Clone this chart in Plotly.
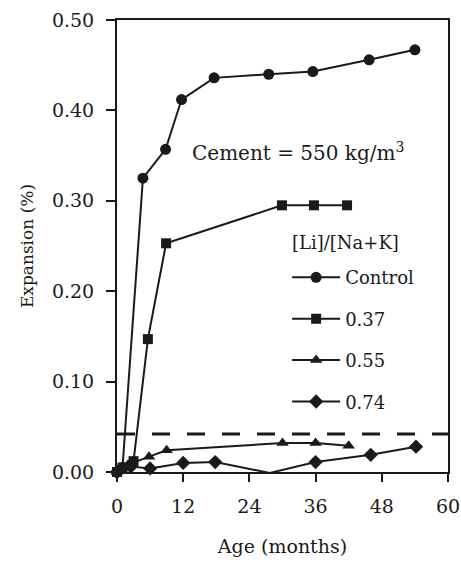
import plotly.graph_objects as go

# Data
control_x = [0, 1, 4.7, 8.8, 11.7, 17.6, 27.5, 35.5, 45.7, 54]
control_y = [0, 0.005, 0.325, 0.357, 0.412, 0.436, 0.440, 0.443, 0.456, 0.467]

li37_x = [0, 1, 3, 5.6, 8.9, 29.9, 35.7, 41.7]
li37_y = [0, 0.005, 0.012, 0.147, 0.253, 0.295, 0.295, 0.295]

li55_x = [0, 2, 5.8, 9, 30, 36, 42]
li55_y = [0, 0.008, 0.017, 0.024, 0.032, 0.032, 0.029]

li74_x = [0, 2.5, 6, 12, 17.8, 27.7, 36, 46, 54.2]
li74_y = [0, 0.006, 0.004, 0.010, 0.011, -0.001, 0.011, 0.019, 0.028]

limit_x = [0, 60]
limit_y = [0.042, 0.042]

names = ["Control", "0.37", "0.55", "0.74"]
symbols = ["circle", "square", "triangle-up", "diamond"]
sizes = [11, 10, 11, 11]
series = [(control_x, control_y), (li37_x, li37_y), (li55_x, li55_y), (li74_x, li74_y)]

FONT = "DejaVu Serif"
INK = "#1a1a1a"

fig = go.Figure()

fig.add_trace(go.Scatter(
    x=limit_x, y=limit_y, mode="lines", showlegend=False,
    line=dict(color=INK, width=3, dash="18px,17px"), hoverinfo="skip"))

for i, ((xs, ys), nm, sym, sz) in enumerate(zip(series, names, symbols, sizes)):
    fig.add_trace(go.Scatter(
        x=xs, y=ys, name=nm, mode="lines+markers", legendgroup=nm,
        line=dict(color=INK, width=2),
        marker=dict(symbol=sym, size=sz, color=INK),
        cliponaxis=False))

fig.add_annotation(
    x=32.8, y=0.354, xref="x", yref="y",
    text="Cement = 550 kg/m<sup>3</sup>", showarrow=False,
    font=dict(family=FONT, size=20, color=INK), xanchor="center", yanchor="middle")

# legend title placed as a text label
fig.add_annotation(
    x=0.523, y=0.507, xref="paper", yref="paper",
    text="[Li]/[Na+K]", showarrow=False,
    font=dict(family=FONT, size=18, color=INK), xanchor="left", yanchor="middle")

fig.update_layout(
    width=461, height=562,
    margin=dict(l=117, r=13, t=20, b=90),
    paper_bgcolor="white", plot_bgcolor="white",
    font=dict(family=FONT, size=19, color=INK),
    showlegend=True,
    legend=dict(
        x=0.514, y=0.471, xanchor="left", yanchor="top",
        bgcolor="rgba(0,0,0,0)",
        font=dict(family=FONT, size=18, color=INK),
        tracegroupgap=15, itemwidth=48),
    xaxis=dict(
        range=[0, 60], dtick=12, tick0=0, automargin=False,
        showgrid=False, zeroline=False,
        showline=True, linecolor=INK, linewidth=2, mirror=True,
        ticks="outside", ticklen=8, tickwidth=2, tickcolor=INK,
        ticklabelstandoff=8,
        title=dict(text="Age (months)", font=dict(family=FONT, size=19, color=INK), standoff=24),
        tickfont=dict(family=FONT, size=19, color=INK)),
    yaxis=dict(
        range=[0, 0.5], dtick=0.1, tick0=0, tickformat=".2f", automargin=False,
        showgrid=False, zeroline=False,
        showline=True, linecolor=INK, linewidth=2, mirror=True,
        ticks="outside", ticklen=9, tickwidth=2, tickcolor=INK,
        ticklabelstandoff=8,
        title=dict(text="Expansion (%)", font=dict(family=FONT, size=17, color=INK), standoff=14),
        tickfont=dict(family=FONT, size=19, color=INK)),
)

fig.write_html("out.html")
